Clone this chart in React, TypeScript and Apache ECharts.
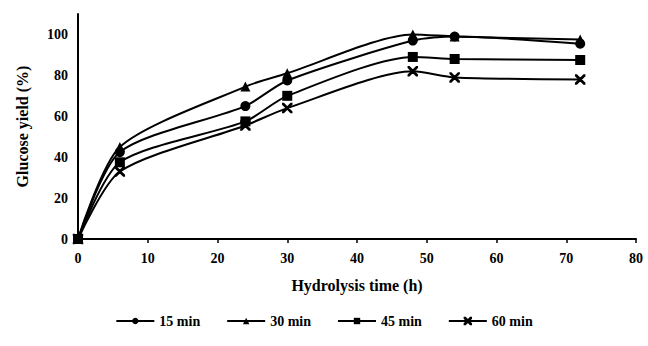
import React, { useEffect, useRef } from "react";
import * as echarts from "echarts";

const times = [0, 6, 24, 30, 48, 54, 72];
const min15 = [0, 42.5, 65, 77.5, 97, 99, 95.5];
const min30 = [0, 45, 74.5, 81, 100, 99, 97.5];
const min45 = [0, 37.5, 57.5, 70, 89, 88, 87.5];
const min60 = [0, 33, 55.5, 64, 82, 79, 78];
const seriesNames = ["15 min", "30 min", "45 min", "60 min"];
const xTicks = { min: 0, max: 80, interval: 10 };
const yTicks = { min: 0, max: 110, interval: 20 };

const crossPath = "path://M0,0 L1,0 L10,9 L10,10 L9,10 L0,1 Z M9,0 L10,0 L10,1 L1,10 L0,10 L0,9 Z";

export default function App() {
  const ref = useRef<HTMLDivElement>(null);
  useEffect(() => {
    if (!ref.current) return;
    const chart = echarts.init(ref.current, undefined, { renderer: "svg" });
    const font = "'Liberation Serif', 'DejaVu Serif', serif";
    const mk = (name: string, vals: number[], symbol: string, size: number) => ({
      name,
      type: "line",
      data: times.map((t, i) => [t, vals[i]]),
      smooth: 0.25,
      symbol,
      symbolSize: size,
      lineStyle: { color: "#000", width: 2 },
      itemStyle: { color: "#000", borderColor: "#000", borderWidth: symbol === crossPath ? 1.5 : 0 },
    });
    chart.setOption({
      animation: false,
      backgroundColor: "#fff",
      grid: { left: 78, right: 12, top: 14, bottom: 107 },
      legend: {
        bottom: 13,
        left: "center",
        itemWidth: 38,
        itemHeight: 8,
        itemGap: 26,
        data: seriesNames,
        textStyle: { fontFamily: font, fontWeight: "bold", fontSize: 14, color: "#000" },
      },
      xAxis: {
        type: "value",
        min: xTicks.min,
        max: xTicks.max,
        interval: xTicks.interval,
        name: "Hydrolysis time (h)",
        nameLocation: "middle",
        nameGap: 38,
        nameTextStyle: { fontFamily: font, fontWeight: "bold", fontSize: 16, color: "#000" },
        axisLine: { lineStyle: { color: "#000", width: 2 } },
        axisTick: { show: true, length: 4, lineStyle: { color: "#000", width: 1.5 } },
        axisLabel: { fontFamily: font, fontWeight: "bold", fontSize: 14, color: "#000", margin: 12 },
        splitLine: { show: false },
      },
      yAxis: {
        type: "value",
        min: yTicks.min,
        max: yTicks.max,
        interval: yTicks.interval,
        name: "Glucose yield (%)",
        nameLocation: "middle",
        nameGap: 48,
        nameRotate: 90,
        nameTextStyle: { fontFamily: font, fontWeight: "bold", fontSize: 16, color: "#000" },
        axisLine: { show: true, lineStyle: { color: "#000", width: 2 } },
        axisTick: { show: false },
        axisLabel: { fontFamily: font, fontWeight: "bold", fontSize: 14, color: "#000", margin: 10, showMaxLabel: false },
        splitLine: { show: false },
      },
      series: [
        mk(seriesNames[0], min15, "circle", 10),
        mk(seriesNames[1], min30, "triangle", 10),
        mk(seriesNames[2], min45, "rect", 10),
        mk(seriesNames[3], min60, crossPath, 9),
      ],
    });
    return () => chart.dispose();
  }, []);
  return <div ref={ref} style={{ width: 648, height: 346, position: "absolute", left: 0, top: 0 }} />;
}
